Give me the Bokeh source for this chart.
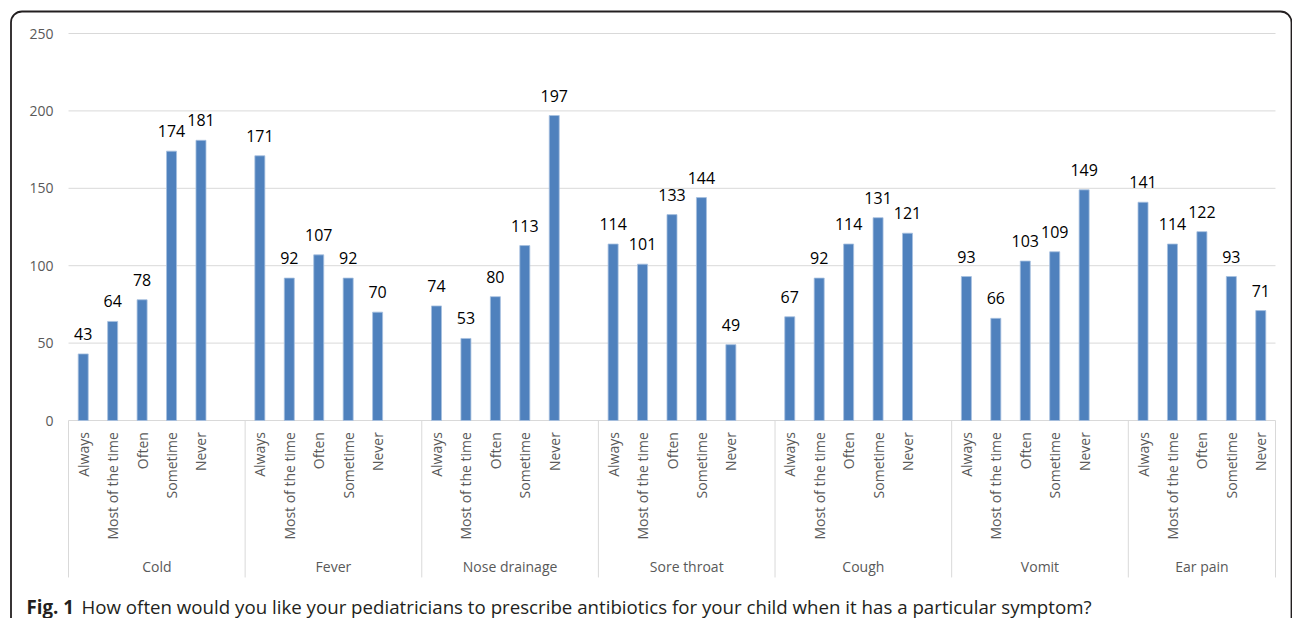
import math
from bokeh.plotting import figure
from bokeh.models import Range1d, BoxAnnotation, Label, ColumnDataSource
from bokeh.core.properties import value
from bokeh.embed import file_html
from bokeh.resources import INLINE

groups = ["Cold", "Fever", "Nose drainage", "Sore throat", "Cough", "Vomit", "Ear pain"]
answers = ["Always", "Most of the time", "Often", "Sometime", "Never"]
cold = [43, 64, 78, 174, 181]
fever = [171, 92, 107, 92, 70]
nose_drainage = [74, 53, 80, 113, 197]
sore_throat = [114, 101, 133, 144, 49]
cough = [67, 92, 114, 131, 121]
vomit = [93, 66, 103, 109, 149]
ear_pain = [141, 114, 122, 93, 71]
series = [cold, fever, nose_drainage, sore_throat, cough, vomit, ear_pain]
y_ticks = [0, 50, 100, 150, 200, 250]
caption_bold = "Fig. 1"
caption_text = "How often would you like your pediatricians to prescribe antibiotics for your child when it has a particular symptom?"

FONT = "Open Sans"
W, H = 1292, 618
slot = len(answers) + 1
n_slots = len(groups) * slot - 1

# pixel layout of the plotting area inside the canvas
left_px, right_px, zero_px, top_px = 68.0, 1275.0, 420.0, 33.0
px_per_x = (right_px - left_px) / n_slots
px_per_y = (zero_px - top_px) / y_ticks[-1]

xs, vals, labs = [], [], []
for gi, vals_g in enumerate(series):
    for ai, v in enumerate(vals_g):
        xs.append(gi * slot + ai + 0.5)
        vals.append(v)
        labs.append(answers[ai])
src = ColumnDataSource(dict(x=xs, top=vals, txt=[str(v) for v in vals], lab=labs))

starts = [gi * slot for gi in range(len(groups))]
ends = starts[1:] + [n_slots]
bounds = starts + [n_slots]
centers = [(s + e) / 2 for s, e in zip(starts, ends)]

x0 = -left_px / px_per_x
x1 = n_slots + (W - right_px) / px_per_x
y1 = zero_px / px_per_y
y0 = -(H - zero_px) / px_per_y

p = figure(width=W, height=H, output_backend="svg", toolbar_location=None,
           x_range=Range1d(x0, x1), y_range=Range1d(y0, y1),
           min_border=0, min_border_left=0, min_border_right=0,
           min_border_top=0, min_border_bottom=0)
p.outline_line_color = None
p.background_fill_color = "white"
p.border_fill_color = "white"
p.xaxis.visible = False
p.yaxis.visible = False
p.xgrid.visible = False
p.ygrid.visible = False

# horizontal gridlines (value axis)
p.segment(x0=[0] * len(y_ticks), y0=y_ticks, x1=[n_slots] * len(y_ticks), y1=y_ticks,
          line_color="#D9D9D9", line_width=1)
# value-axis tick labels
p.text(x=[0] * len(y_ticks), y=y_ticks, text=[str(t) for t in y_ticks],
       x_offset=-15, text_font=value(FONT), text_font_size="14px",
       text_color="#595959", text_align="right", text_baseline="middle")

p.vbar(x="x", top="top", bottom=0, width=0.34, source=src,
       fill_color="#4F81BD", line_color="#A7C0E0", line_width=0.8)

p.text(x="x", y="top", text="txt", source=src, text_font=value(FONT),
       text_font_size="16px", text_color="#000000", text_align="center",
       text_baseline="alphabetic", y_offset=-20)

# category axis: answers (rotated), dividers, groups
p.text(x="x", y=-7.5, text="lab", source=src, angle=math.pi / 2,
       text_font=value(FONT), text_font_size="14px", text_color="#595959",
       text_align="right", text_baseline="middle")

p.segment(x0=bounds, y0=[0] * len(bounds), x1=bounds, y1=[-101.4] * len(bounds),
          line_color="#D9D9D9", line_width=1)

p.text(x=centers, y=[-94] * len(centers), text=groups, text_font=value(FONT),
       text_font_size="14px", text_color="#595959", text_align="center",
       text_baseline="middle")

cap_x = (26 - left_px) / px_per_x
cap_y = -(606 - zero_px) / px_per_y
p.add_layout(Label(x=cap_x, y=cap_y, text=caption_bold, text_font=FONT,
                   text_font_size="18.7px", text_font_style="bold", text_color="#231F20",
                   text_baseline="alphabetic"))
p.add_layout(Label(x=cap_x, y=cap_y, x_offset=55, text=caption_text, text_font=FONT,
                   text_font_size="18.7px", text_color="#231F20",
                   text_baseline="alphabetic"))

p.add_layout(BoxAnnotation(left=10.5, right=1291, top=11, bottom=800,
                           left_units="canvas", right_units="canvas",
                           top_units="canvas", bottom_units="canvas",
                           fill_alpha=0, line_color="#231F20", line_alpha=1.0,
                           line_width=1.8, border_radius=11))

open("out.html", "w").write(file_html(p, INLINE))
